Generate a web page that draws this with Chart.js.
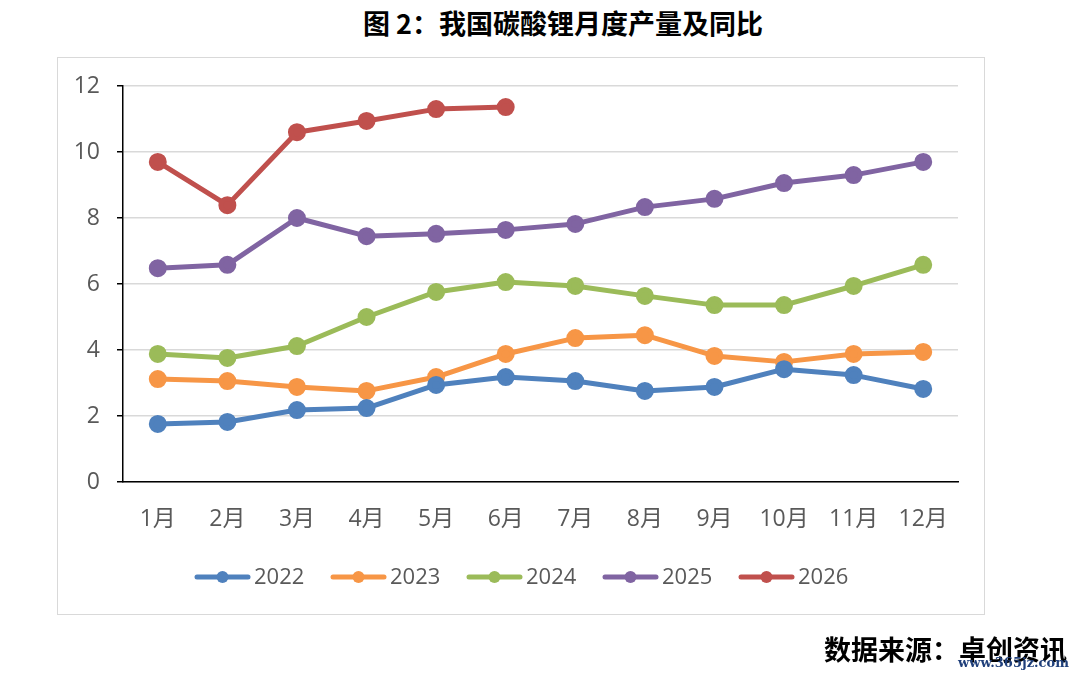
<!DOCTYPE html>
<html>
<head>
<meta charset="utf-8">
<script src="https://cdn.jsdelivr.net/npm/chart.js@4.4.1/dist/chart.umd.min.js"></script>
<style>
  html, body { margin: 0; padding: 0; background: #fff; }
  #wrap { position: relative; width: 1080px; height: 679px; overflow: hidden; }
  #box { position: absolute; left: 57px; top: 57px; width: 926px; height: 556px; border: 1px solid #d9d9d9; }
  #title { position: absolute; left: 0; width: 1126px; top: 3px; text-align: center;
    font: bold 27px "Noto Sans CJK SC", sans-serif; color: #000; }
  #source { position: absolute; left: 824px; top: 629px;
    font: bold 27px "Noto Sans CJK SC", sans-serif; color: #000; }
  #mark { position: absolute; left: 958px; top: 655px; font: bold 13px "DejaVu Serif", serif; color: #1f3f7a; }
  #cv { position: absolute; left: 0; top: 0; }
</style>
</head>
<body>
<div id="wrap">
  <div id="box"></div>
  <div id="title">图 2：我国碳酸锂月度产量及同比</div>
  <canvas id="cv" width="1080" height="679"></canvas>
  <div id="source">数据来源：卓创资讯</div>
  <div id="mark">www.365jz.com</div>
</div>
<script>
const months = ['1月', '2月', '3月', '4月', '5月', '6月', '7月', '8月', '9月', '10月', '11月', '12月'];
const years = ['2022', '2023', '2024', '2025', '2026'];
const y2022 = [1.76, 1.82, 2.18, 2.24, 2.94, 3.18, 3.06, 2.76, 2.88, 3.42, 3.24, 2.82];
const y2023 = [3.12, 3.06, 2.88, 2.76, 3.18, 3.88, 4.36, 4.45, 3.82, 3.64, 3.88, 3.94];
const y2024 = [3.88, 3.76, 4.12, 5.00, 5.76, 6.06, 5.94, 5.64, 5.36, 5.36, 5.94, 6.58];
const y2025 = [6.48, 6.58, 8.00, 7.45, 7.52, 7.64, 7.82, 8.33, 8.58, 9.06, 9.30, 9.70];
const y2026 = [9.70, 8.39, 10.60, 10.94, 11.30, 11.36];
const colors = ['#4F81BD', '#F79646', '#9BBB59', '#8064A2', '#C0504D'];
const yTicks = [0, 2, 4, 6, 8, 10, 12];

// Excel-style legend: line segment with a marker in the middle
const lineLegend = {
  id: 'lineLegend',
  afterDraw(chart) {
    const { ctx } = chart;
    const y = 577;
    let x = 197;
    ctx.save();
    ctx.font = '22px "Open Sans", "Noto Sans", sans-serif';
    ctx.textBaseline = 'middle';
    chart.data.datasets.forEach(ds => {
      ctx.strokeStyle = ds.borderColor;
      ctx.lineWidth = 5;
      ctx.lineCap = 'round';
      ctx.beginPath();
      ctx.moveTo(x, y);
      ctx.lineTo(x + 51, y);
      ctx.stroke();
      ctx.fillStyle = ds.borderColor;
      ctx.beginPath();
      ctx.arc(x + 25.5, y, 6, 0, Math.PI * 2);
      ctx.fill();
      ctx.fillStyle = '#595959';
      ctx.fillText(ds.label, x + 57, y + 1);
      x += 136;
    });
    ctx.restore();
  }
};

const series = [y2022, y2023, y2024, y2025, y2026];

new Chart(document.getElementById('cv'), {
  type: 'line',
  data: {
    labels: months,
    datasets: series.map((d, i) => ({
      label: years[i],
      data: d,
      borderColor: colors[i],
      backgroundColor: colors[i],
      borderWidth: 5,
      pointRadius: 6.5,
      pointHoverRadius: 6.5,
      tension: 0,
      borderCapStyle: 'round',
      borderJoinStyle: 'round'
    }))
  },
  options: {
    responsive: false,
    animation: false,
    layout: { padding: { left: 63, top: 86, right: 122, bottom: 147 } },
    plugins: { legend: { display: false }, tooltip: { enabled: false } },
    scales: {
      x: {
        offset: true,
        grid: { display: false, drawTicks: false },
        border: { display: true, color: '#000', width: 1.5 },
        ticks: { color: '#595959', font: { size: 23, family: '"Open Sans", "Noto Sans CJK SC", sans-serif' }, padding: 24, maxRotation: 0, autoSkip: false },
        afterFit(s) { s.height = 50; }
      },
      y: {
        min: 0,
        max: 12,
        afterBuildTicks(s) { s.ticks = yTicks.map(v => ({ value: v })); },
        grid: { color: '#d9d9d9', lineWidth: 1.5, tickColor: '#000', tickLength: 6 },
        border: { display: true, color: '#000', width: 1.5 },
        ticks: { color: '#595959', font: { size: 23, family: '"Open Sans", "Noto Sans", sans-serif' }, padding: 17 },
        afterFit(s) { s.width = 60; }
      }
    }
  },
  plugins: [lineLegend]
});
</script>
</body>
</html>
